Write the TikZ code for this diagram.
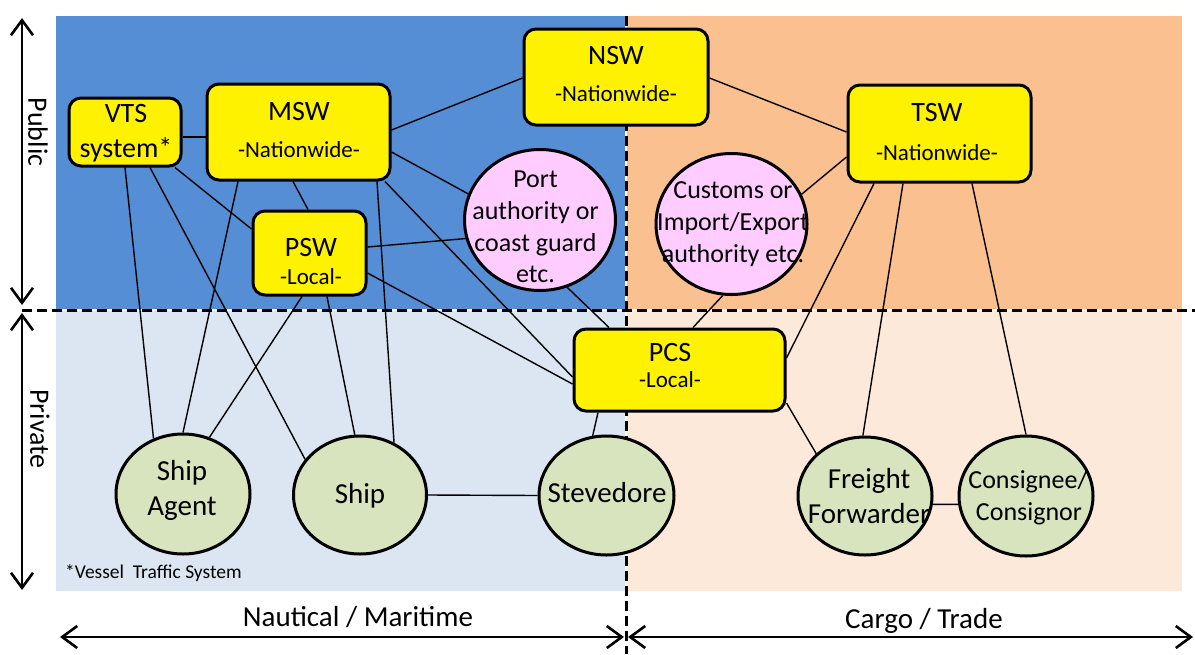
\documentclass[tikz,border=0pt]{standalone}
\usepackage{fontspec}
\setmainfont{Carlito}
\usetikzlibrary{arrows.meta,shapes.geometric}
\definecolor{bgblue}{HTML}{558ED5}
\definecolor{bgorange}{HTML}{FAC090}
\definecolor{bglblue}{HTML}{DCE6F2}
\definecolor{bglorange}{HTML}{FDE9D9}
\definecolor{pinkfill}{HTML}{FFCCFF}
\definecolor{greenfill}{HTML}{D7E4BD}
\newcommand{\myfs}[1]{\fontsize{#1}{#1}\selectfont}
\begin{document}
\begin{tikzpicture}[x=1pt,y=-1pt,
  ybox/.style={draw,line width=3pt,fill=yellow,rounded corners=12pt,inner sep=0pt},
  bub/.style={ellipse,draw,line width=3pt,inner sep=0pt},
  pbub/.style={bub,fill=pinkfill,minimum width=151pt,minimum height=141pt},
  gbub/.style={bub,fill=greenfill,minimum width=133pt,minimum height=118pt},
  txt/.style={inner sep=0pt,anchor=base},
  ttl/.style={txt,font=\myfs{28}},
  sub/.style={txt,font=\myfs{23}},
  gtx/.style={txt,font=\myfs{29}},
  ptx/.style={txt,font=\myfs{26}},
  conn/.style={line width=1.4pt},
  dsh/.style={line width=3pt,dash pattern=on 10pt off 5pt},
  axis/.style={line width=2.6pt,{Straight Barb[length=15pt,width=22pt]}-{Straight Barb[length=15pt,width=22pt]}}
]
\useasboundingbox (0,0) rectangle (1195,654);
% backgrounds
\fill[bgblue] (56,16) rectangle (625,309);
\fill[bgorange] (627,16) rectangle (1182,309);
\fill[bglblue] (56,311) rectangle (625,591);
\fill[bglorange] (627,311) rectangle (1182,591);
% dashed separators
\coordinate (hL) at (22,310); \coordinate (hR) at (1195,310);
\coordinate (vT) at (626,16); \coordinate (vB) at (626,654);
\draw[dsh] (hL) -- (hR);
\draw[dsh] (vT) -- (vB);
% axes
\coordinate (pubT) at (22,18); \coordinate (pubB) at (22,305);
\coordinate (priT) at (22,313); \coordinate (priB) at (22,590);
\coordinate (nauL) at (60,637); \coordinate (nauR) at (624,637);
\coordinate (carL) at (628,637); \coordinate (carR) at (1193,637);
\draw[axis] (pubT) -- (pubB);
\draw[axis] (priT) -- (priB);
\draw[axis] (nauL) -- (nauR);
\draw[axis] (carL) -- (carR);
\node[inner sep=0pt,rotate=-90,font=\myfs{28}] (public) at (38,132) {Public};
\node[inner sep=0pt,rotate=-90,font=\myfs{28}] (private) at (40,429) {Private};
\node[txt,font=\myfs{29}] (naut) at (358,626) {Nautical / Maritime};
\node[txt,font=\myfs{29}] (cargo) at (924,628) {Cargo / Trade};
\node[inner sep=0pt,anchor=base west,font=\myfs{19.5}] (foot) at (65,578) {*Vessel\ \ Traffic System};
% yellow boxes
\node[ybox,minimum width=112pt,minimum height=68pt] (vts) at (125,132) {};
\node[ttl] (vts1) at (126,122) {VTS};
\node[ttl] (vts2) at (126,157) {system*};
\node[ybox,minimum width=183pt,minimum height=96pt] (msw) at (298.5,132) {};
\node[ttl] (msw1) at (299,120) {MSW};
\node[sub] (msw2) at (299,157) {-Nationwide-};
\node[ybox,minimum width=184pt,minimum height=96pt] (nsw) at (616,77) {};
\node[ttl] (nsw1) at (616,64) {NSW};
\node[sub] (nsw2) at (616,101) {-Nationwide-};
\node[ybox,minimum width=183pt,minimum height=97pt] (tsw) at (939.5,133.5) {};
\node[ttl] (tsw1) at (937,121) {TSW};
\node[sub] (tsw2) at (937,160) {-Nationwide-};
\node[ybox,minimum width=113pt,minimum height=84pt] (psw) at (309.5,253) {};
\node[ttl] (psw1) at (311,256) {PSW};
\node[sub] (psw2) at (311,284) {-Local-};
\node[ybox,minimum width=211pt,minimum height=82pt] (pcs) at (679.5,370) {};
\node[ttl] (pcs1) at (670,361) {PCS};
\node[sub] (pcs2) at (670,387) {-Local-};
% pink bubbles
\node[pbub] (port) at (540,220) {};
\node[ptx] (port1) at (535.5,187) {Port};
\node[ptx] (port2) at (535.5,219) {authority or};
\node[ptx] (port3) at (535.5,251) {coast guard};
\node[ptx] (port4) at (535.5,282) {etc.};
\node[pbub] (cus) at (731.5,224) {};
\node[ptx] (cus1) at (733,198) {Customs or};
\node[ptx] (cus2) at (733,230) {Import/Export};
\node[ptx] (cus3) at (733,262) {authority etc.};
% green bubbles
\node[gbub,minimum width=134pt,minimum height=120pt] (sa) at (183,494) {};
\node[gtx] (sa1) at (182,480) {Ship};
\node[gtx] (sa2) at (182,515) {Agent};
\node[gbub] (ship) at (360,495) {};
\node[gtx] (ship1) at (360,503) {Ship};
\node[gbub,minimum width=135pt,minimum height=119pt] (stev) at (606.5,495.5) {};
\node[gtx] (stev1) at (607,502) {Stevedore};
\node[gbub,minimum width=134pt] (ff) at (865,496) {};
\node[gtx] (ff1) at (869,488) {Freight};
\node[gtx] (ff2) at (869,523) {Forwarder};
\node[gbub,minimum width=134pt,minimum height=120pt] (con) at (1026,496) {};
\node[ptx] (con1) at (1028,488) {Consignee/};
\node[ptx] (con2) at (1029,520) {Consignor};
% connectors
\draw[conn] ([yshift=-5pt]vts.east) -- ([yshift=-5pt]msw.west);
\draw[conn] ([yshift=2pt]msw.east) -- ([yshift=-1pt]nsw.west);
\draw[conn] ([yshift=-1pt]nsw.east) -- ([yshift=1.5pt]tsw.west);
\draw[conn] ([yshift=-23.5pt]tsw.west) -- (cus.23);
\draw[conn] ([yshift=-20pt]msw.east) -- (port.160);
\draw[conn] ([yshift=6pt]psw.east) -- (port.194);
\draw[conn] ([xshift=50pt]vts.south) -- ([yshift=24pt]psw.west);
\draw[conn] ([xshift=-5.5pt]msw.south) -- ([xshift=-1.5pt]psw.north);
\draw[conn] (vts.south) -- (sa.118);
\draw[conn] ([xshift=25pt]vts.south) -- (ship.147);
\draw[conn] ([xshift=-60.5pt]msw.south) -- (sa.90);
\draw[conn] ([xshift=-7.5pt]psw.south) -- (sa.65);
\draw[conn] ([xshift=17.5pt]psw.south) -- (ship.95);
\draw[conn] ([xshift=78.5pt]msw.south) -- (ship.57);
\draw[conn] ([xshift=86.5pt]msw.south) -- ([yshift=-7pt]pcs.west);
\draw[conn] ([yshift=-20pt]psw.east) -- ([yshift=-14pt]pcs.west);
\draw[conn] (port.-68) -- ([xshift=-70.5pt]pcs.north);
\draw[conn] (cus.-97) -- ([xshift=13.5pt]pcs.north);
\draw[conn] ([xshift=-65.5pt]tsw.south) -- ([yshift=12pt]pcs.east);
\draw[conn] ([xshift=-36.5pt]tsw.south) -- (ff.92);
\draw[conn] ([xshift=32.5pt]tsw.south) -- (con.90);
\draw[conn] ([yshift=-33pt]pcs.east) -- (ff.139);
\draw[conn] ([xshift=-81.5pt]pcs.south) -- (stev.103);
\draw[conn] (ship.east) -- (stev.west);
\draw[conn] (ff.-7) -- (con.187);
\end{tikzpicture}
\end{document}
